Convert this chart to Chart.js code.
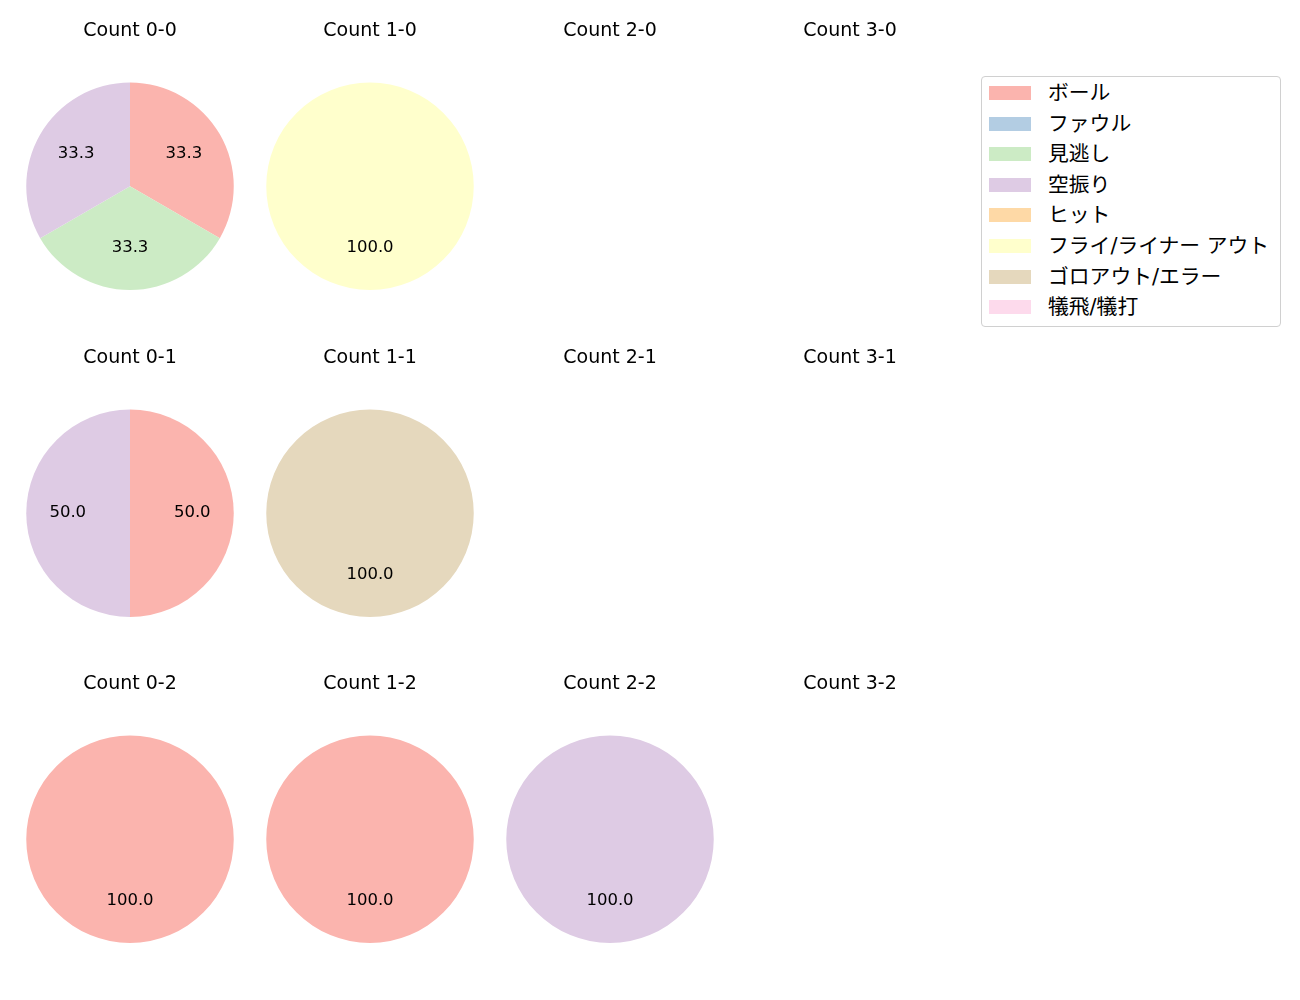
<!DOCTYPE html>
<html>
<head>
<meta charset="utf-8">
<script src="https://cdn.jsdelivr.net/npm/chart.js@4/dist/chart.umd.min.js"></script>
<style>
  body { margin: 0; background: #fff; font-family: "DejaVu Sans", "Noto Sans CJK JP", sans-serif; }
  #wrap { position: relative; width: 1300px; height: 1000px; }
  .cell { position: absolute; width: 240px; height: 290px; }
  #legend {
    position: absolute; left: 981px; top: 76px; width: 298px; height: 249px;
    border: 1px solid #d0d0d0; border-radius: 4px; box-sizing: content-box;
  }
  .item { position: absolute; left: 0; height: 20px; }
  .sw { position: absolute; left: 7px; top: 3px; width: 42px; height: 14px; }
  .lab { position: absolute; left: 66px; top: 0; font-size: 20.8px; white-space: nowrap; color: #000; line-height: 20px; }
</style>
</head>
<body>
<div id="wrap"></div>
<script>
// Categories and colours
const categories = ['ボール', 'ファウル', '見逃し', '空振り', 'ヒット', 'フライ/ライナー アウト', 'ゴロアウト/エラー', '犠飛/犠打'];
const colors = ['#fbb4ae', '#b3cde3', '#ccebc5', '#decbe4', '#fed9a6', '#ffffcc', '#e5d8bd', '#fddaec'];

// Counts (balls-strikes) and share per category, in percent
const counts = ['0-0', '1-0', '2-0', '3-0', '0-1', '1-1', '2-1', '3-1', '0-2', '1-2', '2-2', '3-2'];
const c00 = [33.3, 0, 33.3, 33.3, 0, 0, 0, 0];
const c10 = [0, 0, 0, 0, 0, 100, 0, 0];
const c20 = [];
const c30 = [];
const c01 = [50, 0, 0, 50, 0, 0, 0, 0];
const c11 = [0, 0, 0, 0, 0, 0, 100, 0];
const c21 = [];
const c31 = [];
const c02 = [100, 0, 0, 0, 0, 0, 0, 0];
const c12 = [100, 0, 0, 0, 0, 0, 0, 0];
const c22 = [0, 0, 0, 100, 0, 0, 0, 0];
const c32 = [];
const countValues = [c00, c10, c20, c30, c01, c11, c21, c31, c02, c12, c22, c32];

const fontFamily = '"DejaVu Sans", "Noto Sans CJK JP", sans-serif';

// draws the percentage inside each slice at 0.6 of the radius
const pctLabels = {
    id: 'pctLabels',
    afterDatasetsDraw(chart) {
        const ctx = chart.ctx;
        const meta = chart.getDatasetMeta(0);
        if (!meta || !meta.data.length) return;
        ctx.save();
        ctx.font = '16.5px ' + fontFamily;
        ctx.fillStyle = '#000';
        ctx.textAlign = 'center';
        ctx.textBaseline = 'middle';
        meta.data.forEach((arc, i) => {
            const v = chart.data.datasets[0].data[i];
            if (!v) return;
            const mid = (arc.startAngle + arc.endAngle) / 2;
            const r = arc.outerRadius * 0.6;
            ctx.fillText(v.toFixed(1), arc.x + Math.cos(mid) * r, arc.y + Math.sin(mid) * r - 1);
        });
        ctx.restore();
    }
};

const wrap = document.getElementById('wrap');
const rowTops = [0, 326.5, 653];

counts.forEach((name, idx) => {
    const col = idx % 4, row = Math.floor(idx / 4);
    const div = document.createElement('div');
    div.className = 'cell';
    div.style.left = (10 + col * 240) + 'px';
    div.style.top = rowTops[row] + 'px';
    const canvas = document.createElement('canvas');
    div.appendChild(canvas);
    wrap.appendChild(div);

    const vals = countValues[idx];
    new Chart(canvas, {
        type: 'pie',
        data: {
            labels: vals.length ? categories : [],
            datasets: [{
                data: vals,
                backgroundColor: colors,
                borderWidth: 0
            }]
        },
        options: {
            responsive: true,
            maintainAspectRatio: false,
            animation: false,
            layout: { padding: 0 },
            plugins: {
                legend: { display: false },
                tooltip: { enabled: false },
                title: {
                    display: true,
                    text: 'Count ' + name,
                    color: '#000',
                    font: { family: fontFamily, size: 19, weight: 'normal', lineHeight: 1.2 },
                    padding: { top: 19.5, bottom: 40.2 }
                }
            }
        },
        plugins: [pctLabels]
    });
});

// legend box
const legend = document.createElement('div');
legend.id = 'legend';
categories.forEach((c, i) => {
    const item = document.createElement('div');
    item.className = 'item';
    item.style.top = (6 + i * 30.6) + 'px';
    const sw = document.createElement('span');
    sw.className = 'sw';
    sw.style.background = colors[i];
    const lab = document.createElement('span');
    lab.className = 'lab';
    lab.textContent = c;
    item.appendChild(sw);
    item.appendChild(lab);
    legend.appendChild(item);
});
wrap.appendChild(legend);
</script>
</body>
</html>
